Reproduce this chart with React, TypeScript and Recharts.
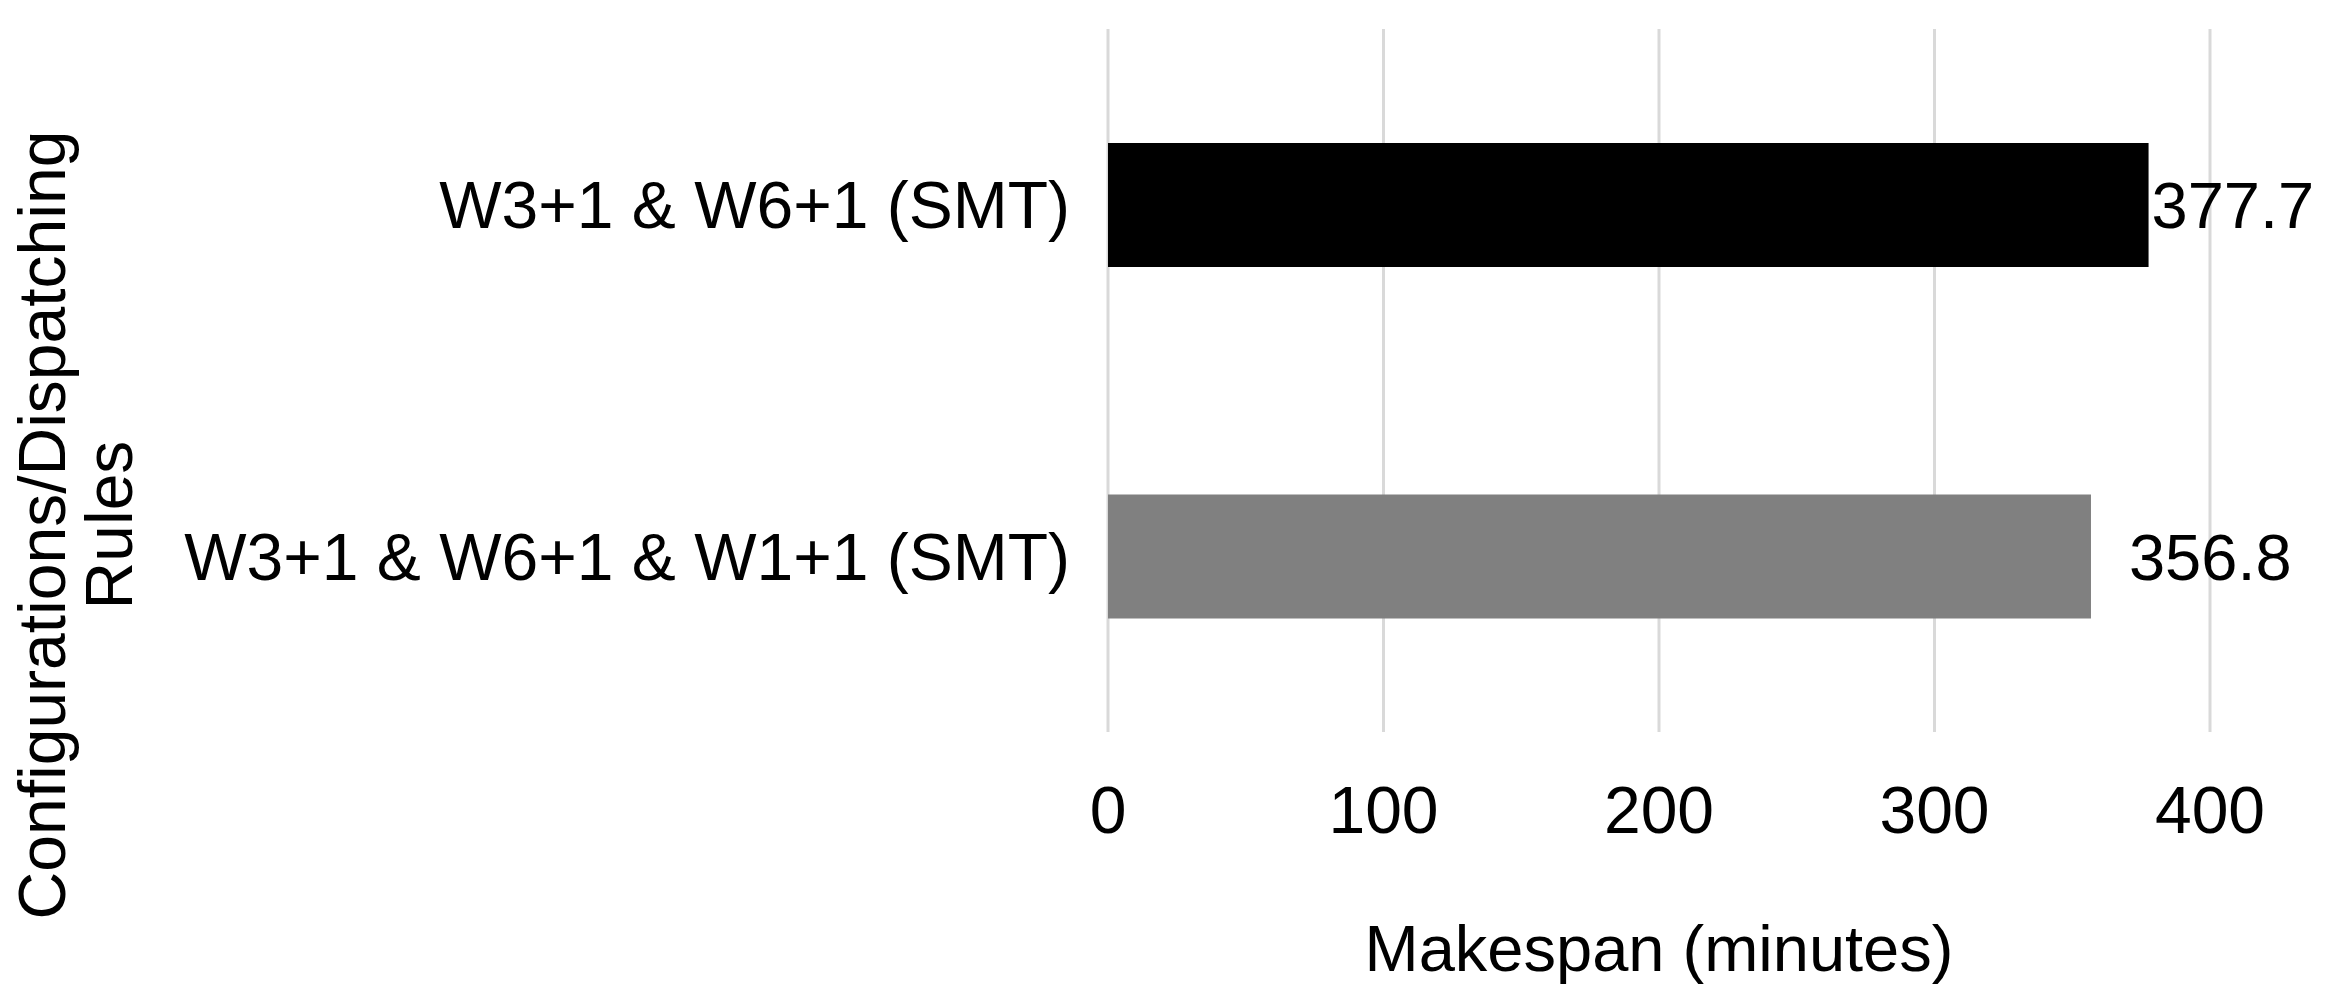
import React from 'react';
import {
  BarChart,
  Bar,
  XAxis,
  YAxis,
  CartesianGrid,
  LabelList,
  Cell,
  Customized,
} from 'recharts';

const categories = ['W3+1 & W6+1 (SMT)', 'W3+1 & W6+1 & W1+1 (SMT)'];
const makespan = [377.7, 356.8];
const xTicks = [0, 100, 200, 300, 400];

const barColors = ['#000000', '#808080'];
// Excel put the first label right against the bar, the second a bit further out
const labelOffsets = [3, 38];

const font = '"Liberation Sans", Arial, sans-serif';

const data = categories.map((name, i) => ({ name, value: makespan[i] }));

function ValueLabel(props: any) {
  const { x, y, width, height, value, index } = props;
  return (
    <text
      x={x + width + labelOffsets[index]}
      y={y + height / 2}
      dy="0.36em"
      textAnchor="start"
      fontFamily={font}
      fontSize={65}
      fill="#000"
    >
      {value}
    </text>
  );
}

function YTitle() {
  return (
    <text
      transform="translate(75, 525) rotate(-90)"
      textAnchor="middle"
      fontFamily={font}
      fontSize={66}
      fill="#000"
    >
      <tspan x={0} dy={-10}>Configurations/Dispatching</tspan>
      <tspan x={0} dy={67}>Rules</tspan>
    </text>
  );
}

export default function App() {
  return (
    <div style={{ position: 'absolute', left: 0, top: 0, background: '#fff' }}>
      <BarChart
        width={2346}
        height={1004}
        data={data}
        layout="vertical"
        margin={{ top: 29, right: 136, bottom: 242, left: 0 }}
        barSize={124}
      >
        <CartesianGrid horizontal={false} stroke="#d9d9d9" strokeWidth={3} />
        <XAxis
          type="number"
          domain={[0, 400]}
          ticks={xTicks}
          axisLine={false}
          tickLine={false}
          tickSize={0}
          tickMargin={54}
          tick={{ fill: '#000', fontSize: 66, fontFamily: font }}
          label={{
            value: 'Makespan (minutes)',
            position: 'insideBottom',
            offset: -209,
            fill: '#000',
            fontSize: 65,
            fontFamily: font,
          }}
        />
        <YAxis
          type="category"
          dataKey="name"
          width={1108}
          axisLine={false}
          tickLine={false}
          tickSize={0}
          tickMargin={38}
          tick={{ fill: '#000', fontSize: 66, fontFamily: font }}
        />
        <Bar dataKey="value" isAnimationActive={false}>
          {data.map((d, i) => (
            <Cell key={d.name} fill={barColors[i]} />
          ))}
          <LabelList dataKey="value" content={<ValueLabel />} />
        </Bar>
        <Customized component={YTitle} />
      </BarChart>
    </div>
  );
}
